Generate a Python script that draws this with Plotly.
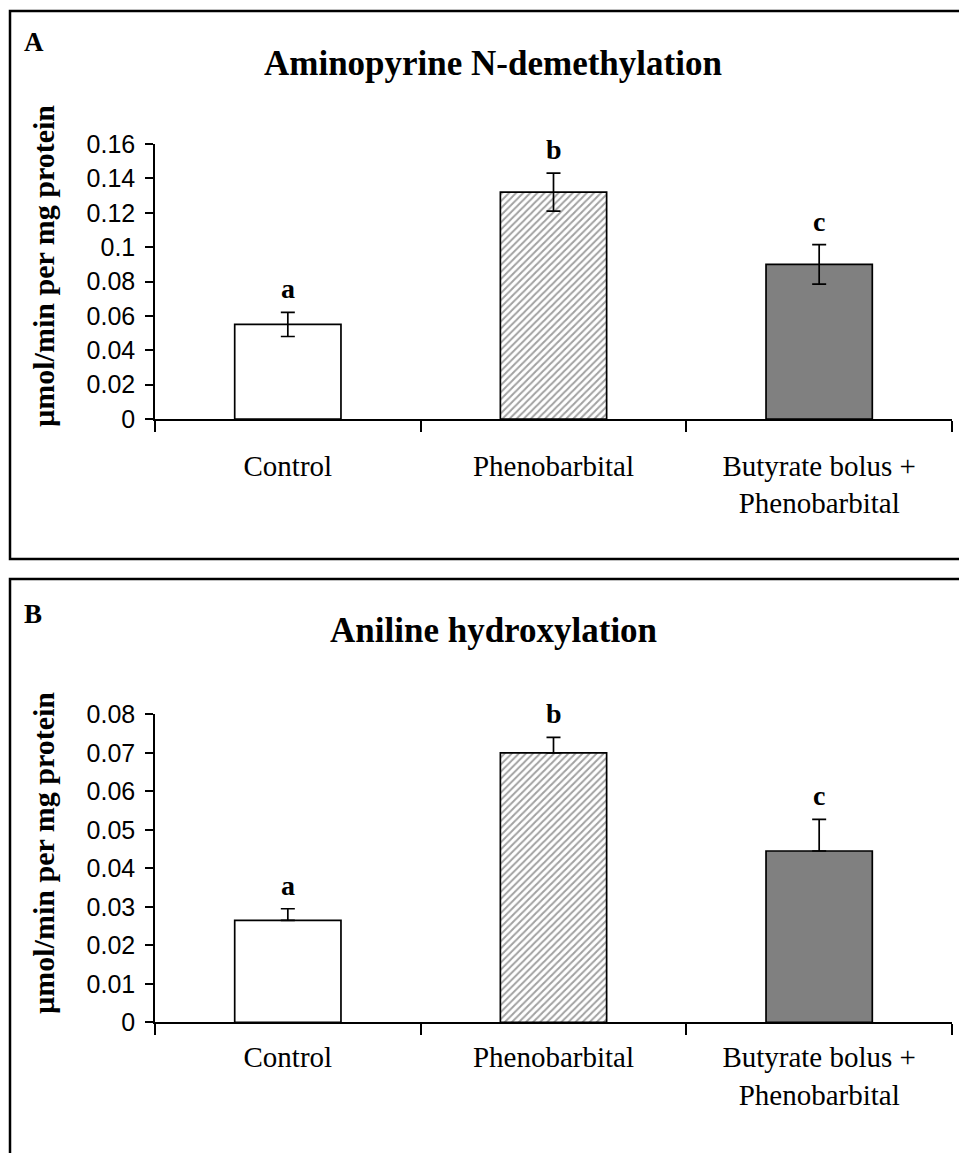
import plotly.graph_objects as go

W, H = 959, 1153

categories = ["Control", "Phenobarbital", "Butyrate bolus +<br>Phenobarbital"]
letters = ["a", "b", "c"]

# Panel A: Aminopyrine N-demethylation
apd_mean = [0.055, 0.132, 0.090]
apd_se = [0.007, 0.011, 0.0115]

# Panel B: Aniline hydroxylation
ani_mean = [0.0265, 0.070, 0.0445]
ani_se = [0.003, 0.004, 0.0082]

ytitle = "µmol/min per mg protein"
titles = ["Aminopyrine N-demethylation", "Aniline hydroxylation"]
panel_labels = ["A", "B"]


def px_x(p):
    return p / W


def px_y(p):
    return 1 - p / H


serif = "Liberation Serif, Times New Roman, serif"
sans = "Liberation Sans, Arial, sans-serif"

fill_colors = ["white", "white", "#808080"]


def bar_trace(means, ses, xa, ya, hatch_color, minus):
    return go.Bar(
        x=categories, y=means, xaxis=xa, yaxis=ya,
        marker=dict(
            color=fill_colors,
            line=dict(color="black", width=1.7),
            pattern=dict(shape=["", "/", ""], fgcolor=hatch_color, bgcolor="white",
                         size=5, solidity=0.4, fillmode="overlay"),
        ),
        error_y=dict(type="data", array=ses, arrayminus=ses if minus else [0] * len(ses),
                     symmetric=False, color="black", thickness=1.7, width=7),
        showlegend=False,
    )


fig = go.Figure()
fig.add_trace(bar_trace(apd_mean, apd_se, "x", "y", "#777777", True))
fig.add_trace(bar_trace(ani_mean, ani_se, "x2", "y2", "#444444", False))

axis_common = dict(showline=True, linecolor="black", linewidth=1.5, ticks="outside",
                   tickcolor="black", tickwidth=1.5, showgrid=False, zeroline=False,
                   automargin=False)

xcommon = dict(domain=[px_x(155), px_x(952)], type="category", tickson="boundaries",
               ticklen=11, range=[-0.5, 2.5],
               tickfont=dict(family=serif, size=29, color="black"), **axis_common)
ycommon = dict(tickformat="~g", ticklen=8, ticklabelstandoff=5,
               tickfont=dict(family=sans, size=25, color="black"), **axis_common)

fig.update_layout(
    width=W, height=H, margin=dict(l=0, r=0, t=0, b=0, autoexpand=False),
    plot_bgcolor="white", paper_bgcolor="white", bargap=0.6,
    xaxis=dict(anchor="y", ticklabelstandoff=20, **xcommon),
    yaxis=dict(domain=[px_y(419), px_y(144)], anchor="x", range=[0, 0.16], dtick=0.02, **ycommon),
    xaxis2=dict(anchor="y2", ticklabelstandoff=8, **xcommon),
    yaxis2=dict(domain=[px_y(1022.3), px_y(714.3)], anchor="x2", range=[0, 0.08], dtick=0.01, **ycommon),
)

annotations = []
# significance letters
for ya, xa, means, ses in [("y", "x", apd_mean, apd_se), ("y2", "x2", ani_mean, ani_se)]:
    for c, m, s, l in zip(categories, means, ses, letters):
        annotations.append(dict(x=c, y=m + s, xref=xa, yref=ya, text="<b>%s</b>" % l,
                                showarrow=False, yanchor="bottom", yshift=6,
                                font=dict(family=serif, size=28, color="black")))

# titles, panel labels, y titles
for t, pl, ty, ly, yty in zip(titles, panel_labels, [64, 630], [42, 614], [266, 853]):
    annotations.append(dict(x=px_x(493), y=px_y(ty), xref="paper", yref="paper",
                            text="<b>%s</b>" % t, showarrow=False, xanchor="center", yanchor="middle",
                            font=dict(family=serif, size=35, color="black")))
    annotations.append(dict(x=px_x(22), y=px_y(ly), xref="paper", yref="paper",
                            text="<b>%s</b>" % pl, showarrow=False, xanchor="left", yanchor="middle",
                            font=dict(family=serif, size=27, color="black")))
    annotations.append(dict(x=px_x(43), y=px_y(yty), xref="paper", yref="paper",
                            text="<b>%s</b>" % ytitle, showarrow=False, textangle=-90,
                            xanchor="center", yanchor="middle",
                            font=dict(family=serif, size=30, color="black")))

fig.update_layout(annotations=annotations)

shapes = [
    dict(type="rect", xref="paper", yref="paper", x0=px_x(10), x1=1.05, y0=px_y(559), y1=px_y(11),
         line=dict(color="black", width=2.5), fillcolor="rgba(0,0,0,0)", layer="below"),
    dict(type="rect", xref="paper", yref="paper", x0=px_x(10), x1=1.05, y0=-0.05, y1=px_y(579),
         line=dict(color="black", width=2.5), fillcolor="rgba(0,0,0,0)", layer="below"),
]
fig.update_layout(shapes=shapes)

fig.write_html("out.html")
